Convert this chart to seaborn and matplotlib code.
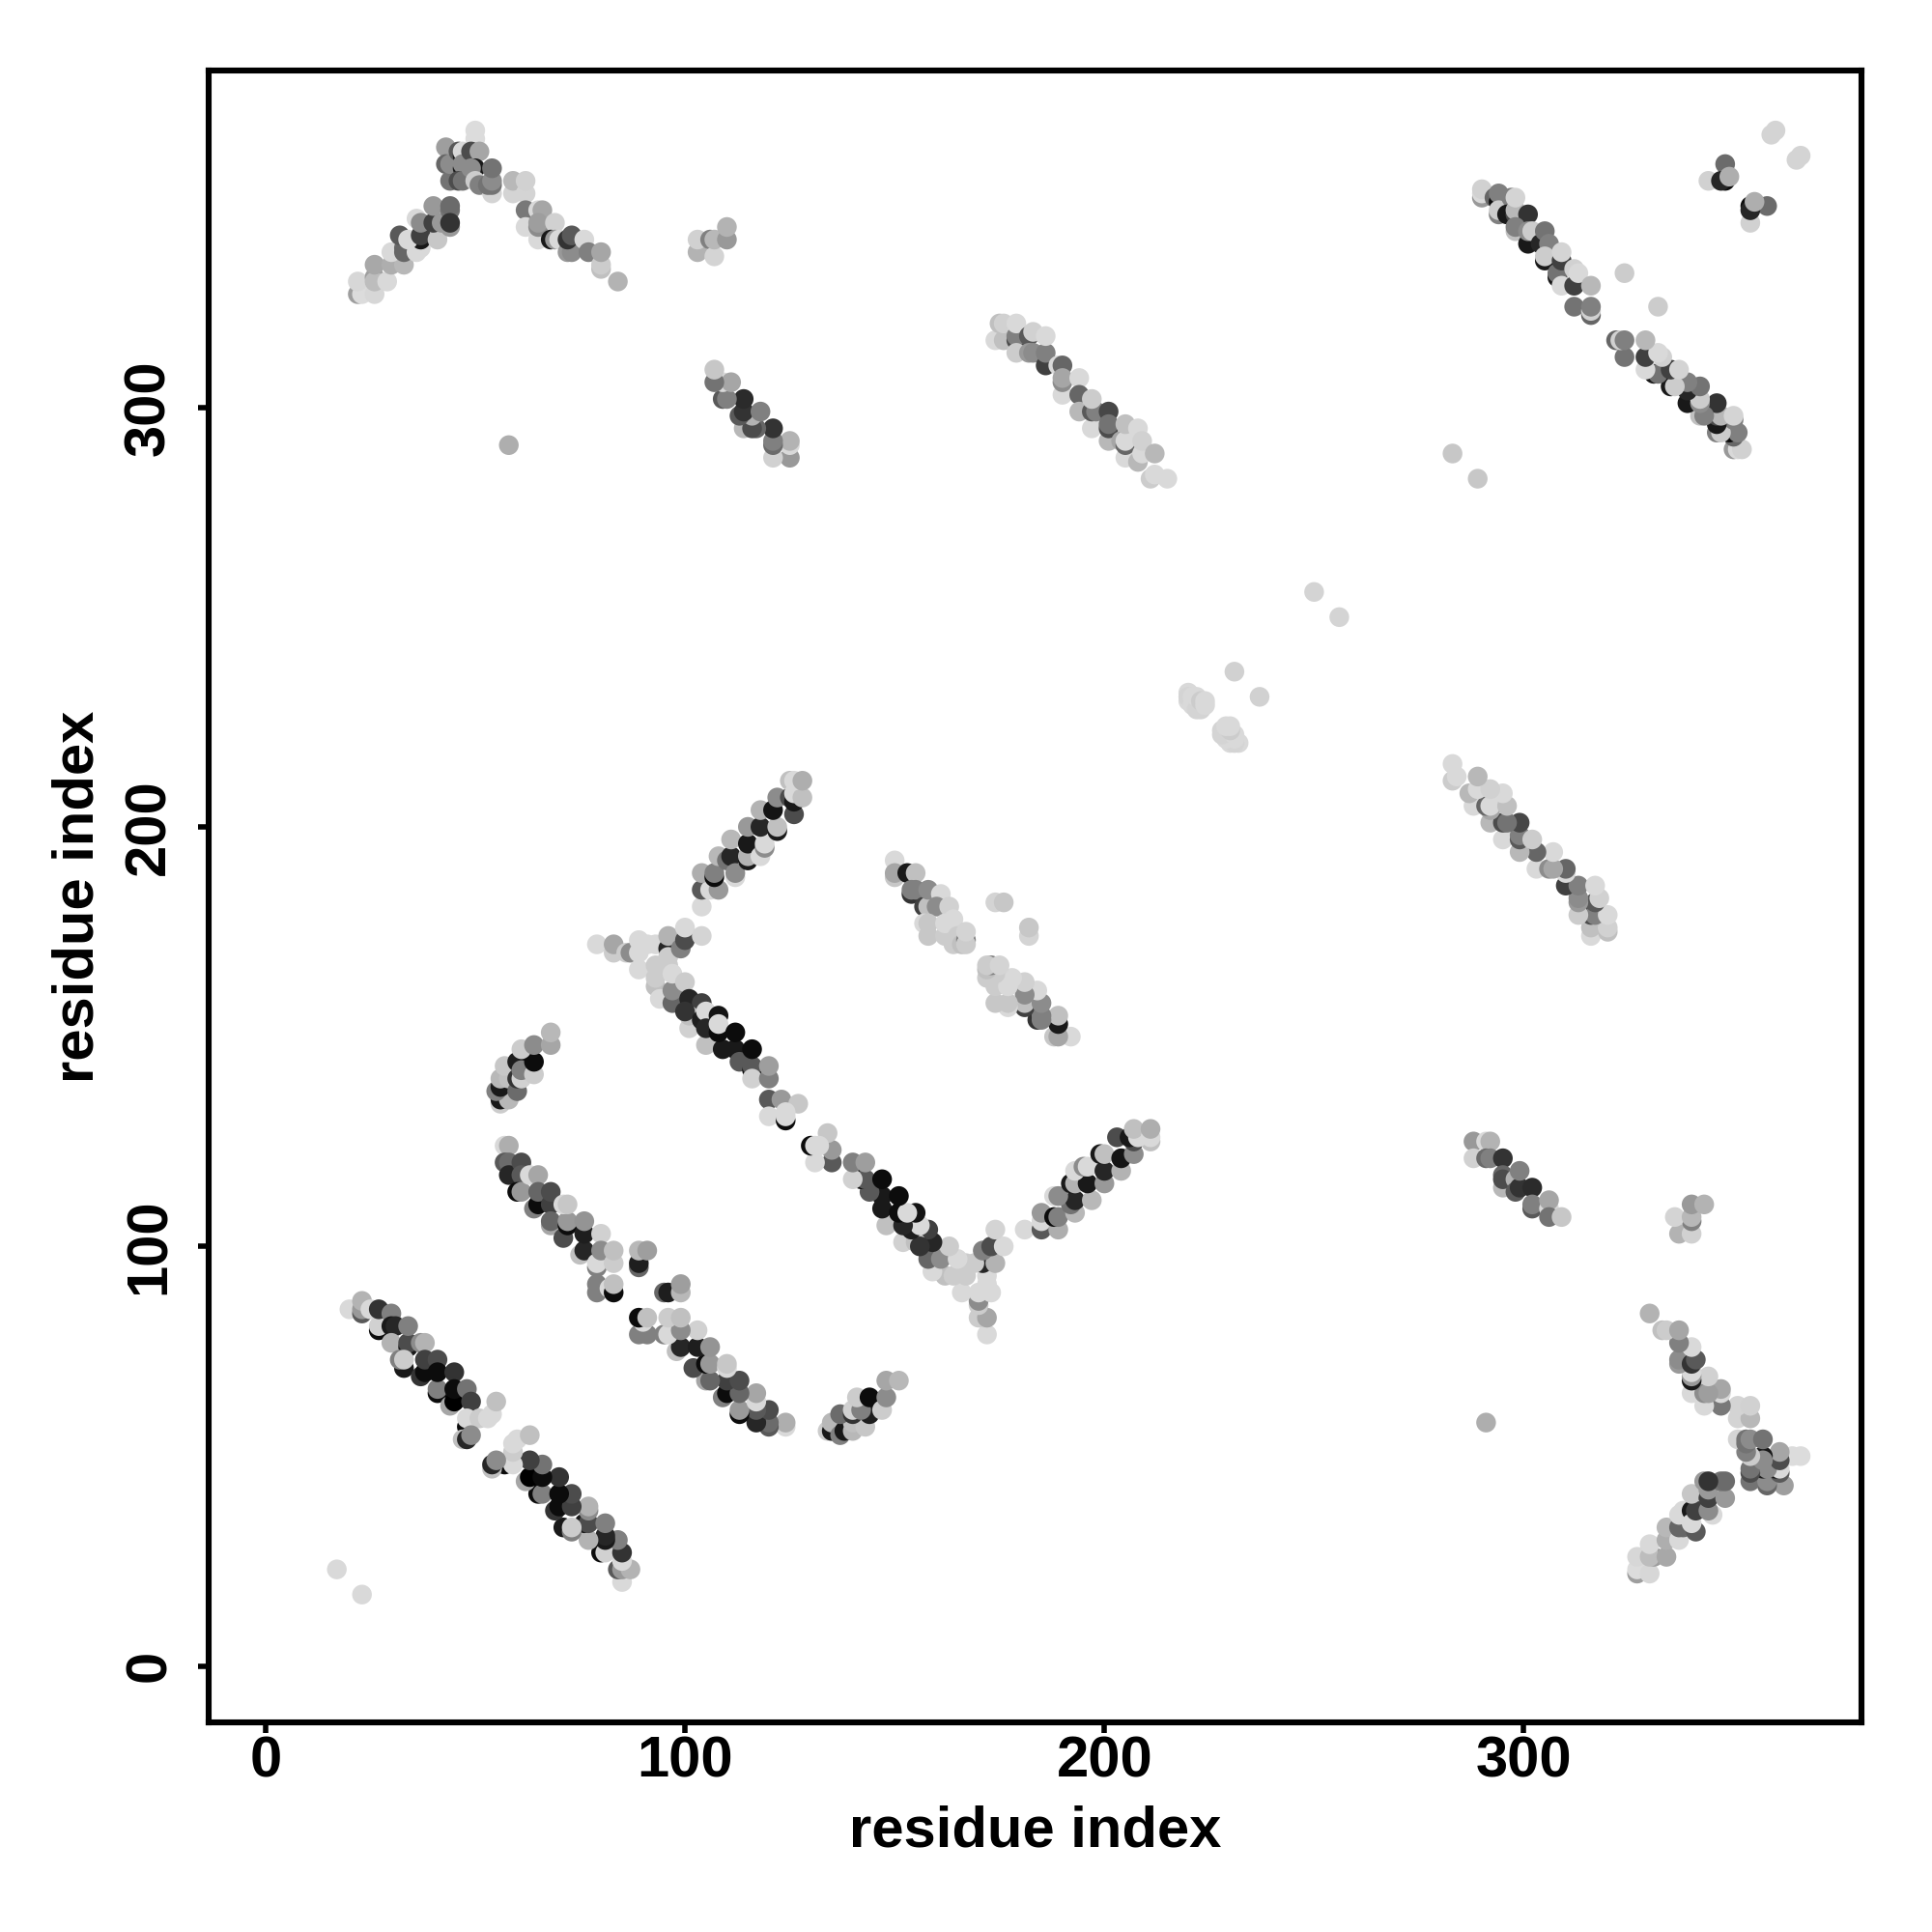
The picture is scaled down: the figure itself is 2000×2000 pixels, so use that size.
import pandas as pd
import matplotlib
matplotlib.use('Agg')
import matplotlib.pyplot as plt
import seaborn as sns

# contacts: (residue i, residue j, grey level 0=black 1=white)
# the map is symmetric, every contact is drawn as (i, j) and (j, i)
far_rise = [(22,327,.62),(23,327,.86),(22,330,.84),(26,327,.84),(26,331,.62),(26,330,.74),(26,334,.66),
            (29,330,.85),(30,334,.68),(33,334,.72),(30,337,.85),(33,338,.42),(33,337,.4),(32,341,.35),
            (36,337,.85),(37,338,.85),(37,340,.1),(34,340,.85),(37,341,.25),(36,345,.85),(37,344,.55),
            (41,340,.78),(40,344,.25),(42,344,.6),(40,348,.6),(44,343,.6),(44,347,.45),(44,348,.42),(44,344,.2)]
far_top = [(43,362,.62),(43,358,.4),(44,354,.45),(44,358,.55),(46,361,.35),(47,360,.1),(47,361,.85),
           (47,357,.12),(47,358,.55),(46,354,.3),(47,354,.45),(50,366,.86),(50,364,.86),(49,361,.3),
           (51,361,.65),(50,357,.1),(49,357,.55),(50,354,.8),(51,353,.5),(54,351,.83),(53,353,.45),
           (54,353,.45),(54,354,.55),(54,357,.45)]
far_fall = [(59,351,.83),(59,354,.72),(62,351,.83),(62,354,.82),(62,347,.47),(65,347,.85),(66,347,.65),
            (62,343,.85),(65,340,.85),(65,343,.55),(65,344,.62),(69,344,.82),(68,340,.1),(69,340,.6),
            (70,340,.85),(72,337,.6),(73,337,.55),(72,340,.2),(73,341,.35),(76,340,.85),(77,337,.5),
            (80,333,.75),(80,334,.8),(80,337,.65),(84,330,.7)]
single_a = [(58,291,.68),(17,23,.85),(283,289,.78),(324,332,.8),(250,256,.83),(231,237,.82)]
block_c = [(103,337,.7),(103,340,.82),(106,340,.5),(107,336,.83),(107,340,.72),(110,340,.6),(110,343,.7)]
block_d = [(125,288,.6),(121,288,.82),(125,291,.85),(125,292,.7),(121,291,.42),(121,292,.5),(121,295,.2),
           (117,295,.4),(114,295,.72),(116,295,.3),(116,298,.7),(113,298,.35),(114,299,.2),(118,299,.5),
           (114,302,.17),(109,302,.35),(110,302,.5),(109,306,.85),(111,306,.65),(107,306,.45),(107,309,.78)]
block_e = [(174,316,.85),(175,320,.75),(176,316,.75),(176,320,.82),(179,316,.3),(179,317,.5),(179,313,.8),
           (179,320,.85),(182,317,.35),(182,313,.6),(183,313,.55),(183,318,.82),(186,310,.25),(186,313,.5),
           (186,317,.85),(189,310,.85),(190,310,.4),(190,303,.85),(190,306,.55),(190,307,.65),(194,307,.85),
           (194,303,.4),(194,299,.72),(197,295,.85),(197,299,.35),(198,299,.5),(197,302,.8),(201,299,.28),
           (201,292,.72),(201,295,.3),(201,296,.45),(204,292,.65),(205,288,.85),(205,291,.4),(205,292,.85),
           (205,296,.75),(208,287,.72),(208,295,.85),(209,289,.85),(209,292,.82),(212,289,.72),(211,283,.8),
           (212,284,.85),(215,283,.85)]
block_f = [(104,181,.85),(104,185,.35),(106,185,.85),(108,185,.6),(104,189,.68),(107,188,.05),(107,189,.5),
           (108,193,.72),(110,192,.45),(111,193,.15),(112,188,.85),(112,189,.55),(111,197,.72),(115,192,.1),
           (115,193,.7),(115,196,.1),(118,193,.85),(119,195,.55),(119,196,.85),(115,200,.6),(118,200,.15),
           (118,204,.7),(122,199,.1),(122,200,.75),(121,204,.08),(122,207,.55),(126,203,.3),(125,207,.3),
           (126,206,.1),(125,211,.75),(126,208,.85),(128,207,.75),(126,211,.85),(128,211,.68)]
block_g = [(79,172,.85),(83,170,.8),(83,172,.65),(86,170,.8),(87,170,.55),(89,166,.85),(89,170,.85),
           (89,173,.85),(91,172,.85),(93,172,.85),(93,162,.75),(93,164,.8),(93,167,.8),(96,171,.15),
           (96,174,.7),(96,169,.8),(96,167,.8),(94,159,.85),(97,158,.4),(97,161,.55),(97,165,.85),
           (99,171,.5),(100,173,.3),(100,176,.85),(104,174,.83),(100,163,.8),(101,159,.15),(104,158,.25),
           (101,152,.82),(101,155,.75),(100,156,.2),(104,154,.12),(105,156,.85),(105,148,.75),(105,152,.15),
           (108,155,.08),(109,147,.1),(108,151,.05),(108,153,.85),(112,147,.1),(112,151,.05),(113,144,.35),
           (116,142,.05),(116,143,.35),(116,147,.05),(116,140,.82),(120,140,.5),(120,143,.62),(120,135,.35),
           (123,135,.6),(127,134,.78),(120,131,.85),(124,130,.05),(124,131,.85),(124,132,.85)]
block_h = [(56,134,.8),(56,135,.1),(58,135,.72),(55,137,.5),(56,138,.1),(56,140,.72),(58,140,.75),(57,143,.78),
           (60,137,.42),(60,140,.2),(61,140,.82),(60,144,.12),(61,142,.5),(64,141,.8),(64,144,.05),
           (61,147,.8),(64,148,.55),(68,148,.65),(68,151,.72)]
band_i = [(57,124,.85),(58,124,.68),(57,120,.35),(58,120,.42),(58,117,.15),(61,120,.3),(61,117,.35),
          (60,113,.05),(61,113,.6),(63,117,.85),(65,117,.65),(64,109,.5),(65,110,.05),(65,113,.4),
          (68,110,.25),(68,113,.3),(68,105,.65),(68,106,.4),(71,102,.3),(72,105,.05),(72,106,.6),
          (71,110,.85),(72,110,.78),(75,98,.75),(76,99,.15),(76,103,.12),(76,106,.58),(80,103,.82),
          (79,95,.5),(79,96,.85),(80,99,.55),(83,96,.8),(83,99,.75),(79,89,.5),(79,91,.5),(82,90,.85),
          (83,89,.05),(83,91,.75),(89,95,.4),(89,96,.12),(89,99,.72),(91,99,.62)]
band_j = [(20,85,.85),(23,84,.35),(23,85,.6),(23,87,.7),(25,85,.85),(27,80,.05),(27,81,.82),(27,85,.2),
          (30,84,.5),(30,81,.1),(31,81,.15),(30,77,.7),(34,76,.1),(34,77,.3),(34,81,.5),(33,71,.1),
          (32,73,.5),(33,73,.8),(37,69,.2),(38,70,.05),(37,77,.55),(38,77,.7),(38,73,.25),(41,73,.3),
          (41,65,.05),(41,66,.5),(41,70,.05),(45,70,.2),(44,62,.65),(45,63,.0),(45,66,.05),(48,66,.45),
          (49,63,.25),(48,57,.05),(48,59,.85),(51,59,.8),(53,59,.85),(54,60,.85),(55,63,.75),(47,54,.75),
          (48,54,.15),(49,55,.55)]
block_k = [(150,192,.85),(150,188,.78),(150,189,.65),(153,189,.1),(155,189,.75),(154,184,.2),(154,185,.5),
           (155,185,.5),(157,181,.25),(158,181,.75),(158,185,.55),(161,184,.85),(160,181,.55),(163,181,.82),
           (157,177,.85),(158,177,.78),(158,174,.78),(162,174,.8),(162,177,.85),(164,178,.85),(164,172,.8),
           (165,174,.8),(166,172,.75),(167,173,.5),(167,172,.8),(167,175,.83),(174,182,.83),(176,182,.78)]
block_l = [(220,232,.85),(220,230,.85),(220,231,.83),(221,229,.85),(221,231,.85),(222,228,.83),(222,231,.85),
           (223,228,.83),(223,230,.8),(224,229,.85),(224,230,.85)]
band_m = [(290,350,.6),(290,351,.85),(290,352,.82),(293,350,.4),(294,346,.5),(294,349,.05),(294,351,.5),
          (294,347,.8),(297,350,.5),(296,346,.1),(298,346,.3),(298,347,.72),(298,350,.83),(301,346,.2),
          (298,342,.75),(298,343,.5),(301,339,.1),(301,342,.55),(302,342,.8),(304,339,.15),(305,342,.45),
          (306,339,.5),(305,335,.1),(305,336,.8),(308,331,.1),(308,332,.45),(309,329,.85),(309,335,.25),
          (309,337,.83),(312,329,.25),(312,333,.82),(313,332,.85),(316,329,.72),(312,324,.45),(316,322,.4),
          (316,323,.82),(316,324,.5)]
block_n = [(348,358,.42),(344,354,.82),(348,354,.05),(347,354,.15),(349,355,.68),(359,365,.83),(360,366,.83)]

clusters = [far_rise, far_top, far_fall, single_a, block_c, block_d, block_e, block_f, block_g,
            block_h, band_i, band_j, block_k, block_l, band_m, block_n]

x_ticks = [0, 100, 200, 300]
y_ticks = [0, 100, 200, 300]
axis_label = 'residue index'

rows = []
for cluster in clusters:
    for i, j, g in cluster:
        rows.append({'x': i, 'y': j, 'grey': g})
for cluster in clusters:
    for i, j, g in cluster:
        rows.append({'x': j, 'y': i, 'grey': g})
df = pd.DataFrame(rows)

sns.set_style('white')
plt.rcParams['font.family'] = ['Liberation Sans', 'DejaVu Sans']
plt.rcParams['font.weight'] = 'bold'

fig = plt.figure(figsize=(10, 10), dpi=200)
ax = fig.add_axes([0.108, 0.1085, 0.8555, 0.855])
sns.scatterplot(data=df, x='x', y='y', hue='grey', hue_norm=(0, 1), palette='gray',
                s=54, linewidth=0, alpha=1, legend=False, ax=ax)

ax.set_xlim(-13.56, 380.5)
ax.set_ylim(-13.47, 380.3)
ax.set_xticks(x_ticks)
ax.set_yticks(y_ticks)
ax.tick_params(axis='both', bottom=True, left=True, length=4, width=2, color='black',
               labelsize=21.5, labelcolor='black')
ax.tick_params(axis='x', pad=0.8)
ax.tick_params(axis='y', pad=8)
for lab in ax.get_yticklabels():
    lab.set_rotation(90)
    lab.set_va('center')
ax.set_xlabel(axis_label, fontsize=21.5, fontweight='bold', color='black', labelpad=6)
ax.set_ylabel(axis_label, fontsize=21.5, fontweight='bold', color='black', labelpad=7)
for spine in ax.spines.values():
    spine.set_visible(True)
    spine.set_color('black')
    spine.set_linewidth(2.2)

fig.savefig('out.png', dpi=200)
